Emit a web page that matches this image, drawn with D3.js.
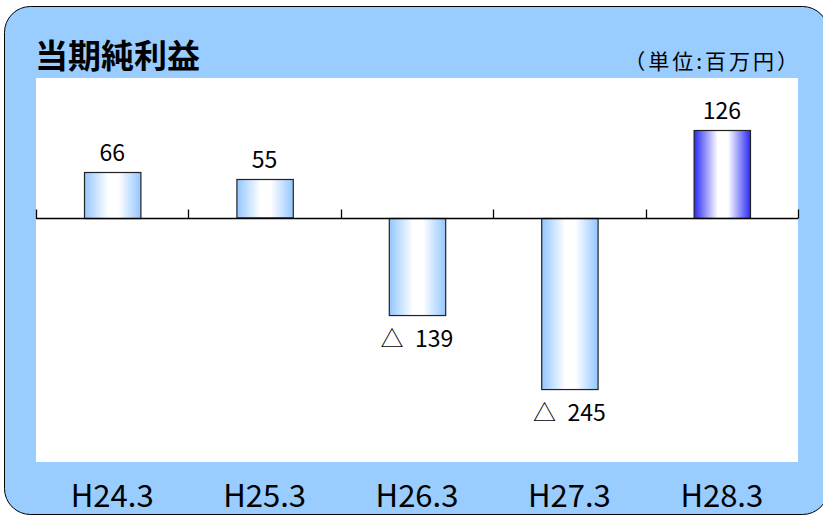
<!DOCTYPE html>
<html>
<head>
<meta charset="utf-8">
<script src="https://cdn.jsdelivr.net/npm/d3@7"></script>
<style>
  body { margin: 0; background: #fff; }
  svg { display: block; font-family: "Noto Sans CJK JP", "Noto Sans", sans-serif; }
</style>
</head>
<body>
<svg id="chart"></svg>
<script>
const categories = ["H24.3", "H25.3", "H26.3", "H27.3", "H28.3"];
const values = [66, 55, -139, -245, 126];
const highlightIndex = 4;

const width = 823, height = 516;
const plot = { left: 36, right: 798, top: 78, bottom: 462 };

const svg = d3.select("#chart").attr("width", width).attr("height", height);
const defs = svg.append("defs");

const makeGrad = (id, edge) => {
  const g = defs.append("linearGradient").attr("id", id)
    .attr("x1", "0%").attr("x2", "100%").attr("y1", "0%").attr("y2", "0%");
  g.append("stop").attr("offset", "0%").attr("stop-color", edge);
  g.append("stop").attr("offset", "42%").attr("stop-color", "#ffffff");
  g.append("stop").attr("offset", "60%").attr("stop-color", "#ffffff");
  g.append("stop").attr("offset", "100%").attr("stop-color", edge);
};
makeGrad("barGrad", "#94c6ff");
makeGrad("barGradHi", "#2a2af5");

// panel
svg.append("rect")
  .attr("x", 4.5).attr("y", 6.5)
  .attr("width", 824).attr("height", 508)
  .attr("rx", 26).attr("ry", 26)
  .attr("fill", "#99ccff").attr("stroke", "#000").attr("stroke-width", 1);

svg.append("rect")
  .attr("x", plot.left).attr("y", plot.top)
  .attr("width", plot.right - plot.left).attr("height", plot.bottom - plot.top)
  .attr("fill", "#fff");

svg.append("text")
  .attr("x", 35).attr("y", 68)
  .attr("font-size", 33).attr("font-weight", "bold")
  .text("当期純利益");

svg.append("text")
  .attr("x", 801).attr("y", 69)
  .attr("text-anchor", "end")
  .attr("font-size", 21)
  .attr("letter-spacing", 3)
  .text("（単位:百万円）");

const x = d3.scaleBand().domain(categories)
  .range([plot.left, plot.right]).paddingInner(0.63).paddingOuter(0.315);
const y = d3.scaleLinear().domain([-350, 200]).range([plot.bottom, plot.top]);
const step = (plot.right - plot.left) / categories.length;

// bars
svg.append("g").selectAll("rect")
  .data(values)
  .join("rect")
  .attr("x", (d, i) => x(categories[i]) + 0.5)
  .attr("y", (d) => Math.round(y(Math.max(0, d))) + 0.5)
  .attr("width", x.bandwidth())
  .attr("height", (d) => Math.abs(y(d) - y(0)))
  .attr("fill", (d, i) => i === highlightIndex ? "url(#barGradHi)" : "url(#barGrad)")
  .attr("stroke", "#222").attr("stroke-width", 1.2);

// axis line with ticks
const zeroY = Math.round(y(0)) + 0.5;
svg.append("line")
  .attr("x1", plot.left).attr("x2", plot.right)
  .attr("y1", zeroY).attr("y2", zeroY)
  .attr("stroke", "#000").attr("stroke-width", 1.3);
svg.append("g").selectAll("line")
  .data(d3.range(categories.length + 1))
  .join("line")
  .attr("x1", (i) => Math.round(plot.left + i * step) + 0.5)
  .attr("x2", (i) => Math.round(plot.left + i * step) + 0.5)
  .attr("y1", zeroY).attr("y2", zeroY - 9)
  .attr("stroke", "#000").attr("stroke-width", 1.3);

// value labels
svg.append("g").selectAll("text")
  .data(values)
  .join("text")
  .attr("x", (d, i) => x(categories[i]) + x.bandwidth() / 2)
  .attr("y", (d) => d >= 0 ? y(d) - 11 : y(d) + 32)
  .attr("text-anchor", "middle")
  .attr("font-size", 23)
  .text((d) => d >= 0 ? d : "△\u2002" + Math.abs(d));

// category labels
svg.append("g").selectAll("text")
  .data(categories)
  .join("text")
  .attr("x", (d) => x(d) + x.bandwidth() / 2)
  .attr("y", 507)
  .attr("text-anchor", "middle")
  .attr("font-size", 31)
  .text((d) => d);
</script>
</body>
</html>
